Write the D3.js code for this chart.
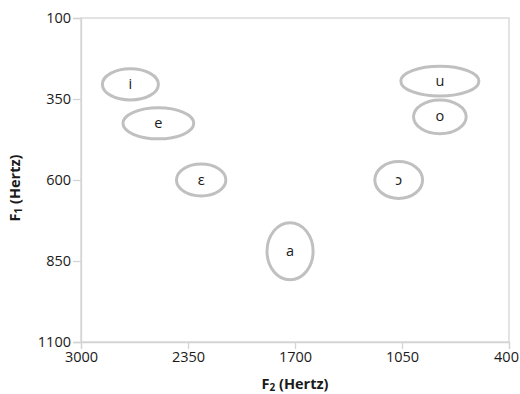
<!DOCTYPE html>
<html>
<head>
<meta charset="utf-8">
<script src="https://cdn.jsdelivr.net/npm/d3@7"></script>
<style>
  body { margin: 0; background: #fff; }
  svg { font-family: "Open Sans", "Noto Sans", sans-serif; }
</style>
</head>
<body>
<svg id="chart" width="520" height="394"></svg>
<script>
// vowel formant data (Hz)
const vowels = ["i", "e", "ɛ", "a", "ɔ", "o", "u"];
const f2 = [2700, 2530, 2270, 1730, 1070, 820, 820];
const f1 = [305, 425, 600, 820, 600, 405, 295];
// spread of each vowel region (half-width in Hz)
const f2Spread = [170, 215, 150, 140, 145, 160, 237];
const f1Spread = [48, 48, 49, 88, 57, 52, 46];

const xTicks = [3000, 2350, 1700, 1050, 400];
const yTicks = [100, 350, 600, 850, 1100];

const svg = d3.select("#chart");
const margin = {top: 18, right: 11, bottom: 52, left: 81};
const width = 520 - margin.left - margin.right;
const height = 394 - margin.top - margin.bottom;

const x = d3.scaleLinear().domain([3000, 400]).range([0, width]);
const y = d3.scaleLinear().domain([100, 1100]).range([0, height]);

const g = svg.append("g")
    .attr("transform", `translate(${margin.left},${margin.top})`);

// plot border
g.append("rect")
    .attr("width", width)
    .attr("height", height)
    .attr("fill", "none")
    .attr("stroke", "#d4d4d4")
    .attr("stroke-width", 1.3);

const xAxis = g.append("g")
    .attr("transform", `translate(0,${height})`)
    .call(d3.axisBottom(x).tickValues(xTicks).tickSize(7).tickPadding(3).tickFormat(d3.format("d")));

const yAxis = g.append("g")
    .call(d3.axisLeft(y).tickValues(yTicks).tickSize(8).tickPadding(2).tickFormat(d3.format("d")));

[xAxis, yAxis].forEach(a => {
  a.select(".domain").attr("stroke", "#d4d4d4").attr("stroke-width", 1.3);
  a.selectAll(".tick line").attr("stroke", "#d4d4d4").attr("stroke-width", 1.3);
  a.selectAll(".tick text")
    .attr("fill", "#1a1a1a")
    .style("font-family", "'Open Sans', sans-serif")
    .style("font-size", "14.5px");
});
// keep the last x label inside the window
xAxis.selectAll(".tick text").filter(d => d === 400).attr("dx", -3);

// vowel ellipses
const data = vowels.map((v, i) => ({v, f2: f2[i], f1: f1[i], dx: f2Spread[i], dy: f1Spread[i]}));

const marks = g.selectAll(".vowel")
  .data(data)
  .enter()
  .append("g")
  .classed("vowel", true);

marks.append("ellipse")
    .attr("cx", d => x(d.f2))
    .attr("cy", d => y(d.f1))
    .attr("rx", d => x(d.f2 - d.dx) - x(d.f2))
    .attr("ry", d => y(d.f1 + d.dy) - y(d.f1))
    .attr("fill", "none")
    .attr("stroke", "#c0c0c0")
    .attr("stroke-width", 3);

marks.append("text")
    .attr("x", d => x(d.f2))
    .attr("y", d => y(d.f1))
    .attr("dy", "0.32em")
    .attr("text-anchor", "middle")
    .attr("fill", "#1a1a1a")
    .style("font-size", "14.5px")
    .text(d => d.v);

// axis titles
const xt = svg.append("text")
    .attr("x", margin.left + width / 2)
    .attr("y", 389)
    .attr("text-anchor", "middle")
    .attr("font-weight", "bold")
    .attr("fill", "#1a1a1a")
    .style("font-size", "14.5px");
xt.append("tspan").text("F");
xt.append("tspan").text("2").style("font-size", "10px").attr("dy", 2);
xt.append("tspan").text(" (Hertz)").attr("dy", -2);

const yt = svg.append("text")
    .attr("transform", `translate(20,${margin.top + height / 2 + 8}) rotate(-90)`)
    .attr("text-anchor", "middle")
    .attr("font-weight", "bold")
    .attr("fill", "#1a1a1a")
    .style("font-size", "14.5px");
yt.append("tspan").text("F");
yt.append("tspan").text("1").style("font-size", "10px").attr("dy", 2);
yt.append("tspan").text(" (Hertz)").attr("dy", -2);
</script>
</body>
</html>
